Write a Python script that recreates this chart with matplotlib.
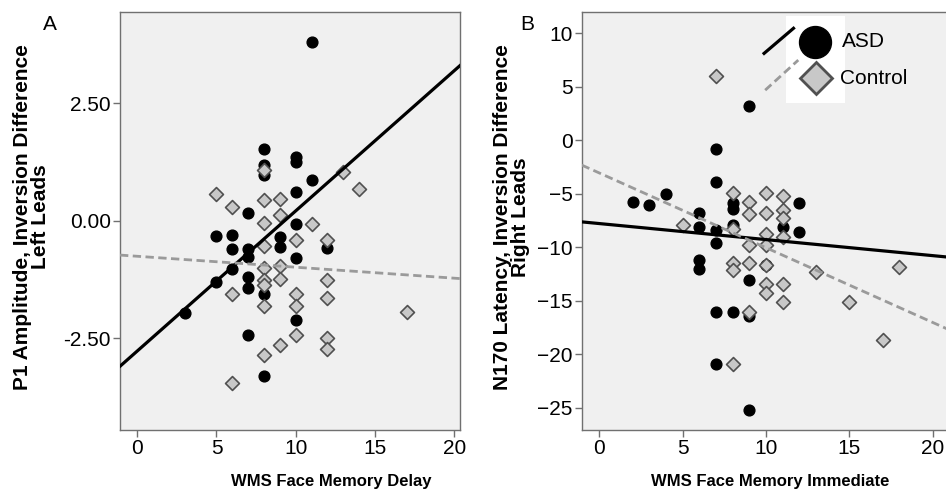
import numpy as np
import matplotlib
matplotlib.use("Agg")
import matplotlib.pyplot as plt
from matplotlib.patches import Rectangle

plt.rcParams["font.family"] = ["Liberation Sans", "DejaVu Sans"]

# ---- data ----
# panel A: WMS face memory delay vs P1 amplitude inversion difference
a_asd_x = [11, 8, 10, 10, 8, 8, 11, 10, 7, 10, 6, 5, 9, 9, 12, 6, 7, 7, 10, 6, 5, 7, 7, 8, 3, 10, 7, 8]
a_asd_y = [3.81, 1.52, 1.35, 1.26, 1.19, 0.97, 0.87, 0.62, 0.16, -0.06, -0.30, -0.33, -0.34, -0.55,
           -0.57, -0.59, -0.59, -0.77, -0.80, -1.03, -1.31, -1.19, -1.44, -1.55, -1.96, -2.10, -2.42, -3.30]
a_ctl_x = [13, 14, 5, 6, 8, 9, 9, 8, 11, 10, 12, 8, 8, 8, 9, 8, 8, 9, 6, 10, 12, 12, 8, 10, 17,
           10, 12, 12, 9, 8, 6]
a_ctl_y = [1.04, 0.67, 0.56, 0.30, 0.44, 0.46, 0.12, -0.04, -0.07, -0.40, -0.41, -0.54, 1.08, -1.00,
           -0.96, -1.26, -1.37, -1.23, -1.55, -1.55, -1.26, -1.64, -1.81, -1.81, -1.94, -2.42,
           -2.49, -2.73, -2.64, -2.86, -3.46]
a_asd_fit = (0.298, -2.77)   # slope, intercept
a_ctl_fit = (-0.0233, -0.755)

# panel B: WMS face memory immediate vs N170 latency inversion difference
b_asd_x = [9, 7, 7, 4, 2, 3, 6, 8, 8, 12, 6, 7, 8, 11, 12, 7, 6, 6, 10, 9, 7, 8, 9, 7, 9]
b_asd_y = [3.2, -0.82, -3.88, -5.03, -5.78, -6.06, -6.78, -5.9, -6.47, -5.85, -8.09, -8.4, -7.94,
           -8.09, -8.56, -9.65, -11.2, -12.0, -11.7, -13.1, -16.1, -16.1, -16.4, -20.9, -25.2]
b_ctl_x = [7, 8, 9, 10, 11, 9, 10, 11, 11, 5, 8, 10, 11, 9, 10, 8, 8, 9, 10, 10, 11, 10, 11,
           13, 15, 17, 18, 9, 8]
b_ctl_y = [6.0, -4.97, -5.75, -4.97, -5.2, -6.9, -6.78, -6.53, -7.31, -7.94, -8.34, -8.72, -9.03,
           -9.81, -9.81, -11.46, -12.15, -11.52, -11.7, -13.4, -13.4, -14.33, -15.11, -12.3,
           -15.11, -18.64, -11.83, -16.05, -20.88]
b_asd_fit = (-0.150, -7.79)
b_ctl_fit = (-0.699, -3.06)

BG = "#f0f0f0"
SPINE = "#707070"
CTL_FACE = "#c8c8c8"
CTL_EDGE = "#505050"
DASH = "#9a9a9a"

W, H = 946, 497
fig = plt.figure(figsize=(W / 100, H / 100), dpi=100)


def px_axes(l, r, t, b):
    return [l / W, 1 - b / H, (r - l) / W, (b - t) / H]


axA = fig.add_axes(px_axes(120, 460, 12, 430))
axB = fig.add_axes(px_axes(581.7, 949.4, 12, 430))


def draw(ax, ax_x, ax_y, cx, cy, fit_a, fit_c, xlim, ylim):
    ax.set_facecolor(BG)
    ax.scatter(ax_x, ax_y, s=60, c="black", marker="o", zorder=3)
    ax.scatter(cx, cy, s=50, c=CTL_FACE, edgecolors=CTL_EDGE, linewidths=1.2,
               marker="D", zorder=4)
    xs = np.array(xlim)
    ax.plot(xs, fit_a[0] * xs + fit_a[1], color="black", lw=2.3, zorder=5)
    ax.plot(xs, fit_c[0] * xs + fit_c[1], color=DASH, lw=2.0, ls=(0, (3, 1.6)), zorder=5)
    ax.set_xlim(*xlim)
    ax.set_ylim(*ylim)
    for s in ax.spines.values():
        s.set_color(SPINE)
        s.set_linewidth(1.0)
    ax.tick_params(direction="out", length=5, width=1, color=SPINE,
                   labelsize=15, pad=1.5, labelcolor="black")
    ax.set_xticks([0, 5, 10, 15, 20])


draw(axA, a_asd_x, a_asd_y, a_ctl_x, a_ctl_y, a_asd_fit, a_ctl_fit,
     (-1.09, 20.37), (-4.45, 4.44))
axA.set_yticks([-2.5, 0, 2.5])
axA.set_yticklabels(["-2.50", "0.00", "2.50"])

draw(axB, b_asd_x, b_asd_y, b_ctl_x, b_ctl_y, b_asd_fit, b_ctl_fit,
     (-1.06, 21.0), (-27.1, 12.0))
axB.set_yticks([-25, -20, -15, -10, -5, 0, 5, 10])
axB.spines["right"].set_visible(False)

xlab = dict(fontsize=12, fontweight="bold")
axA.set_xlabel("WMS Face Memory Delay", **xlab)
axA.xaxis.set_label_coords(0.62, -0.105)
axB.set_xlabel("WMS Face Memory Immediate", **xlab)
axB.xaxis.set_label_coords(0.512, -0.105)

ylab = dict(fontsize=15, fontweight="bold", linespacing=0.92)
axA.set_ylabel("P1 Amplitude, Inversion Difference\nLeft Leads", **ylab)
axA.yaxis.set_label_coords(-0.206, 0.51)
axB.set_ylabel("N170 Latency, Inversion Difference\nRight Leads", **ylab)
axB.yaxis.set_label_coords(-0.1406, 0.51)

fig.text(50 / W, 1 - 24 / H, "A", fontsize=15, ha="center", va="center")
fig.text(527 / W, 1 - 24 / H, "B", fontsize=15, ha="center", va="center")

# legend drawn like the original (overlapping key)
t = axB.transAxes
axB.add_patch(Rectangle((0.556, 0.782), 0.16, 0.208, transform=t,
                        facecolor="white", edgecolor="none", zorder=6))
axB.plot([0.496, 0.576], [0.901, 0.961], transform=t, color="black", lw=2.3, zorder=7)
axB.plot([0.499, 0.589], [0.813, 0.885], transform=t, color=DASH, lw=2.0,
         ls=(0, (3, 1.6)), zorder=7)
axB.plot([0.634], [0.929], transform=t, marker="o", ms=23, color="black", zorder=8)
axB.plot([0.637], [0.841], transform=t, marker="D", ms=16, mfc=CTL_FACE, mec=CTL_EDGE,
         mew=2, zorder=8)
axB.text(0.708, 0.929, "ASD", transform=t, fontsize=15, va="center", zorder=9)
axB.text(0.702, 0.841, "Control", transform=t, fontsize=15, va="center", zorder=9)

fig.savefig("out.png", dpi=100)
